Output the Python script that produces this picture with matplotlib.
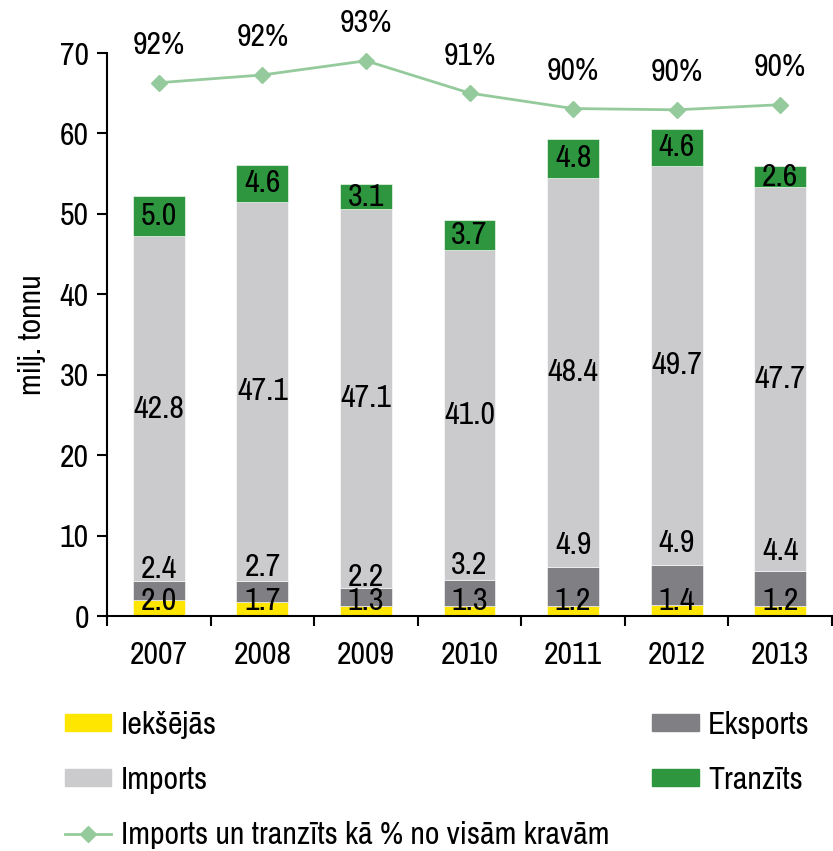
import matplotlib
matplotlib.use('Agg')
import matplotlib.pyplot as plt
import numpy as np
from matplotlib.patches import Patch
from matplotlib.lines import Line2D

plt.rcParams['font.family'] = ['Archivo Narrow', 'Liberation Sans', 'DejaVu Sans']

years = ['2007', '2008', '2009', '2010', '2011', '2012', '2013']
ieksejas = [2.0, 1.7, 1.3, 1.3, 1.2, 1.4, 1.2]
eksports = [2.4, 2.7, 2.2, 3.2, 4.9, 4.9, 4.4]
imports = [42.8, 47.1, 47.1, 41.0, 48.4, 49.7, 47.7]
tranzits = [5.0, 4.6, 3.1, 3.7, 4.8, 4.6, 2.6]
share_pct = [91.7, 92.3, 93.4, 90.9, 89.7, 89.6, 90.0]

c_yellow = '#FFE600'
c_dark = '#807F83'
c_light = '#CBCBCD'
c_green = '#2E963F'
c_line = '#95CB9C'
fs = 23

fig = plt.figure(figsize=(8.33, 8.51), dpi=100)
ax = fig.add_axes([0.1285, 0.2761, 0.8703, 0.6616])
x = np.arange(len(years))
w = 0.5

b1 = np.array(ieksejas)
b2 = b1 + np.array(eksports)
b3 = b2 + np.array(imports)

ax.bar(x, ieksejas, w, color=c_yellow, edgecolor='white', linewidth=0.4)
ax.bar(x, eksports, w, bottom=b1, color=c_dark, edgecolor='white', linewidth=0.4)
ax.bar(x, imports, w, bottom=b2, color=c_light, edgecolor='white', linewidth=0.4)
ax.bar(x, tranzits, w, bottom=b3, color=c_green, edgecolor='white', linewidth=0.4)

# data labels (small segments: labels pushed up like in the original)
for i in range(len(years)):
    ax.text(x[i], max(ieksejas[i] / 2, 1.9), f'{ieksejas[i]:.1f}', ha='center', va='center', fontsize=fs)
    ax.text(x[i], b2[i] + eksports[i] / 2 + 0.3, f'{eksports[i]:.1f}', ha='center', va='center', fontsize=fs)
    ax.text(x[i], b2[i] + imports[i] / 2, f'{imports[i]:.1f}', ha='center', va='center', fontsize=fs)
    ax.text(x[i], b3[i] + tranzits[i] / 2, f'{tranzits[i]:.1f}', ha='center', va='center', fontsize=fs)

ax.set_xlim(-0.5, len(years) - 0.5)
ax.set_ylim(0, 70)
ax.set_yticks(range(0, 71, 10))
ax.set_xticks(x)
ax.set_xticklabels(years)
ax.set_xticks(np.arange(-0.5, len(years)), minor=True)
ax.tick_params(axis='x', which='major', length=0, pad=18, labelsize=fs)
ax.tick_params(axis='x', which='minor', length=7, width=1.5, direction='out')
ax.tick_params(axis='y', length=7, width=1.5, direction='out', labelsize=fs, pad=6)
ax.spines['top'].set_visible(False)
ax.spines['right'].set_visible(False)
ax.spines['left'].set_linewidth(1.5)
ax.spines['bottom'].set_linewidth(1.5)
ax.set_ylabel('milj. tonnu', fontsize=fs, labelpad=10)

# share line on hidden secondary axis
ax2 = ax.twinx()
ax2.plot(x, share_pct, color=c_line, linewidth=2, marker='D', markersize=8)
ax2.set_ylim(50.4, 94.0)
ax2.axis('off')
for i in range(len(years)):
    ax2.annotate(f'{share_pct[i]:.0f}%', (x[i], share_pct[i]), xytext=(0, 27),
                 textcoords='offset points', ha='center', va='center', fontsize=fs)

# legend in two blocks
leg_kw = dict(loc='upper left', frameon=False, fontsize=fs, handlelength=1.45, handleheight=0.45,
              handletextpad=0.3, labelspacing=0.85, borderaxespad=0, borderpad=0)
h1 = [Patch(color=c_yellow), Patch(color=c_light),
      Line2D([], [], color=c_line, linewidth=2, marker='D', markersize=8)]
l1 = ['Iekšējās', 'Imports', 'Imports un tranzīts kā % no visām kravām']
h2 = [Patch(color=c_dark), Patch(color=c_green)]
l2 = ['Eksports', 'Tranzīts']
leg1 = fig.legend(h1, l1, bbox_to_anchor=(0.078, 0.165), **leg_kw)
leg2 = fig.legend(h2, l2, bbox_to_anchor=(0.783, 0.165), **leg_kw)

fig.savefig('out.png', dpi=100)
